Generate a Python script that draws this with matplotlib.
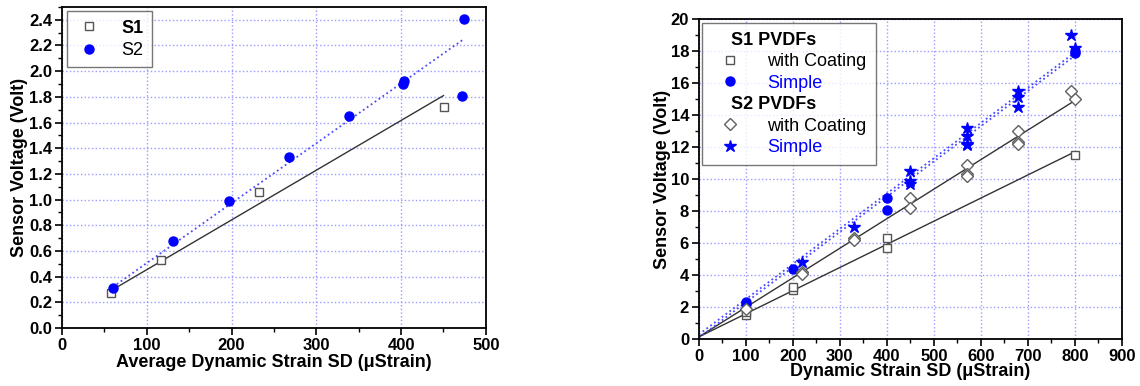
import matplotlib
matplotlib.use('Agg')
import matplotlib.pyplot as plt
from matplotlib.lines import Line2D
from matplotlib.ticker import MultipleLocator, FormatStrFormatter

plt.rcParams['font.family'] = ['Liberation Sans', 'DejaVu Sans']
plt.rcParams['font.weight'] = 'bold'
plt.rcParams['axes.labelweight'] = 'bold'

# Left chart data (Average Dynamic Strain SD, Sensor Voltage)
s1_x = [58, 117, 232, 451]
s1_y = [0.27, 0.53, 1.06, 1.72]
s2_x = [60, 131, 197, 268, 339, 402, 403, 472, 474]
s2_y = [0.31, 0.68, 0.99, 1.33, 1.65, 1.90, 1.92, 1.81, 2.41]
# fit lines
s1_fit_x = [60, 450]
s1_fit_y = [0.30, 1.81]
s2_fit_x = [60, 474]
s2_fit_y = [0.32, 2.25]

# Right chart data
s1c_x = [100, 100, 200, 200, 400, 400, 800]
s1c_y = [1.5, 1.7, 3.1, 3.25, 6.3, 5.7, 11.5]
s1s_x = [100, 100, 200, 400, 400, 800, 800]
s1s_y = [2.3, 2.2, 4.4, 8.85, 8.1, 17.9, 18.0]
s2c_x = [100, 220, 220, 330, 330, 450, 450, 570, 570, 570, 680, 680, 680, 793, 800]
s2c_y = [1.9, 4.2, 4.1, 6.3, 6.2, 8.8, 8.2, 10.9, 10.3, 10.2, 13.0, 12.3, 12.2, 15.5, 15.0]
s2s_x = [220, 330, 450, 450, 450, 570, 570, 570, 570, 680, 680, 680, 793, 800]
s2s_y = [4.8, 7.0, 10.5, 9.9, 9.7, 13.2, 12.7, 12.2, 12.1, 15.5, 15.1, 14.5, 19.0, 18.2]
fit_x = [0, 800]
s1c_fit_y = [0.15, 11.7]
s2c_fit_y = [0.15, 14.9]
s1s_fit_y = [0.1, 17.7]
s2s_fit_y = [0.3, 17.9]

blue = '#0000ff'
gridc = '#9a9aff'
edgec = '#555555'

fig = plt.figure(figsize=(11.4, 3.86), dpi=100)
ax1 = fig.add_axes([0.0544, 0.150, 0.3718, 0.832])
ax2 = fig.add_axes([0.613, 0.121, 0.371, 0.830])


def style_axes(ax):
    ax.grid(True, which='major', color=gridc, linestyle=':', linewidth=1.0)
    ax.set_axisbelow(True)
    for sp in ax.spines.values():
        sp.set_linewidth(1.3)
    ax.tick_params(which='major', direction='out', length=5, width=1.2,
                   labelsize=12, pad=2, top=False, right=False)
    ax.tick_params(which='minor', direction='out', length=3, width=1.0,
                   top=False, right=False)


# ---- left chart
ax1.plot(s1_fit_x, s1_fit_y, color='#333333', linewidth=1.0)
ax1.plot(s2_fit_x, s2_fit_y, color='#4a4aff', linewidth=1.3, linestyle=':')
ax1.plot(s1_x, s1_y, 's', markersize=6, markerfacecolor='white',
         markeredgecolor=edgec, markeredgewidth=1.0, label='S1')
ax1.plot(s2_x, s2_y, 'o', markersize=6.5, color=blue, label='S2')
ax1.set_xlim(0, 500)
ax1.set_ylim(0, 2.5)
ax1.xaxis.set_major_locator(MultipleLocator(100))
ax1.xaxis.set_minor_locator(MultipleLocator(50))
ax1.yaxis.set_major_locator(MultipleLocator(0.2))
ax1.yaxis.set_minor_locator(MultipleLocator(0.1))
ax1.yaxis.set_major_formatter(FormatStrFormatter('%.1f'))
style_axes(ax1)
ax1.set_xlabel('Average Dynamic Strain SD (\u03bcStrain)', fontsize=13, labelpad=1)
ax1.set_ylabel('Sensor Voltage (Volt)', fontsize=13, labelpad=1)
leg1 = ax1.legend(loc='upper left', fontsize=13, frameon=True, fancybox=False,
                  edgecolor='#555555', handlelength=1.6, handletextpad=1.0,
                  labelspacing=0.3, borderpad=0.45, borderaxespad=0.25)
leg1.get_frame().set_linewidth(1.0)
leg1.get_texts()[1].set_fontweight('normal')

# ---- right chart
ax2.plot(fit_x, s1c_fit_y, color='#333333', linewidth=1.0)
ax2.plot(fit_x, s2c_fit_y, color='#333333', linewidth=1.0)
ax2.plot(fit_x, s1s_fit_y, color='#4a4aff', linewidth=1.3, linestyle=':')
ax2.plot(fit_x, s2s_fit_y, color='#4a4aff', linewidth=1.3, linestyle=':')
ax2.plot(s1c_x, s1c_y, 's', markersize=6, markerfacecolor='white',
         markeredgecolor=edgec, markeredgewidth=1.0)
ax2.plot(s1s_x, s1s_y, 'o', markersize=6.5, color=blue)
ax2.plot(s2c_x, s2c_y, 'D', markersize=6.5, markerfacecolor='white',
         markeredgecolor='#606060', markeredgewidth=1.0)
ax2.plot(s2s_x, s2s_y, '*', markersize=9, color=blue)
ax2.set_xlim(0, 900)
ax2.set_ylim(0, 20)
ax2.xaxis.set_major_locator(MultipleLocator(100))
ax2.xaxis.set_minor_locator(MultipleLocator(50))
ax2.yaxis.set_major_locator(MultipleLocator(2))
ax2.yaxis.set_minor_locator(MultipleLocator(1))
style_axes(ax2)
ax2.set_xlabel('Dynamic Strain SD (\u03bcStrain)', fontsize=13, labelpad=-1)
ax2.set_ylabel('Sensor Voltage (Volt)', fontsize=13, labelpad=0)

blank = Line2D([], [], linestyle='none')
handles = [
    blank,
    Line2D([], [], marker='s', linestyle='none', markersize=6,
           markerfacecolor='white', markeredgecolor=edgec),
    Line2D([], [], marker='o', linestyle='none', markersize=6.5, color=blue),
    blank,
    Line2D([], [], marker='D', linestyle='none', markersize=6.5,
           markerfacecolor='white', markeredgecolor='#606060'),
    Line2D([], [], marker='*', linestyle='none', markersize=9, color=blue),
]
labels = ['S1 PVDFs', 'with Coating', 'Simple', 'S2 PVDFs', 'with Coating', 'Simple']
leg2 = ax2.legend(handles, labels, loc='upper left', fontsize=13, frameon=True,
                  fancybox=False, edgecolor='#555555', handlelength=2.0,
                  handletextpad=1.1, labelspacing=0.25, borderpad=0.5,
                  borderaxespad=0.2)
leg2.get_frame().set_linewidth(1.0)
texts = leg2.get_texts()
for i in (1, 2, 4, 5):
    texts[i].set_fontweight('normal')
for i in (2, 5):
    texts[i].set_color(blue)
# header rows without handle space
for vpack in leg2._legend_handle_box.get_children():
    for j, hpack in enumerate(vpack.get_children()):
        if j in (0, 3):
            hpack.get_children()[0].set_width(0)

fig.savefig('out.png', dpi=100)
